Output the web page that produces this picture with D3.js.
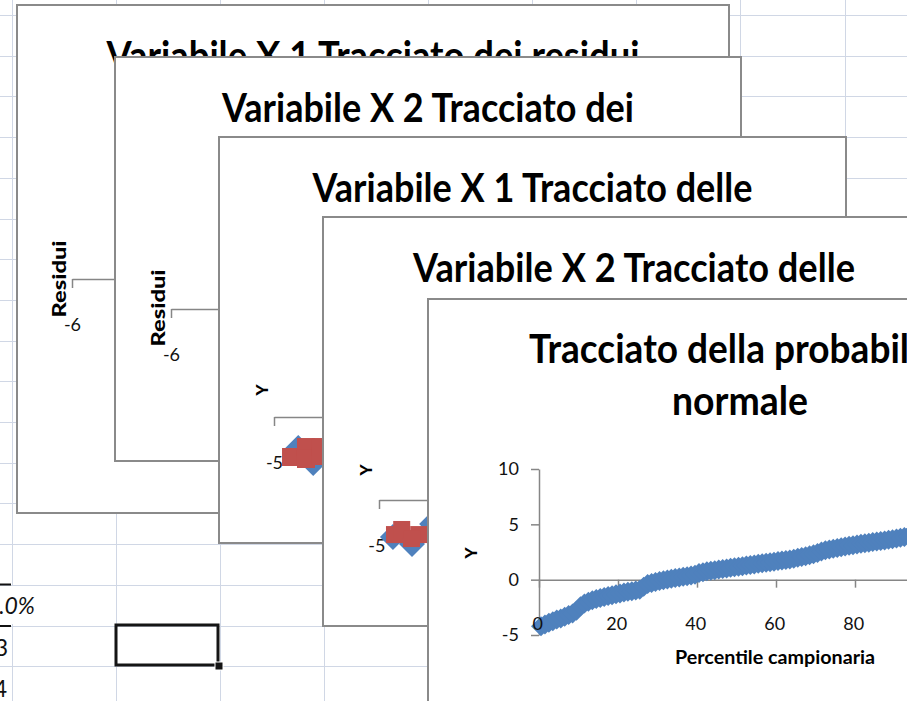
<!DOCTYPE html>
<html>
<head>
<meta charset="utf-8">
<script src="https://cdn.jsdelivr.net/npm/d3@7"></script>
<style>
  html, body { margin: 0; padding: 0; background: #fff; overflow: hidden; }
  svg { display: block; }
</style>
</head>
<body>
<script>
// ---- Normal probability plot: sample percentile vs Y ----
const percentili = [0.5,1.5,2.5,3.5,4.5,5.5,6.5,7.5,8.5,9.5,10.5,11.5,12.5,13.5,14.5,15.5,16.5,17.5,18.5,19.5,
  20.5,21.5,22.5,23.5,24.5,25.5,26.5,27.5,28.5,29.5,30.5,31.5,32.5,33.5,34.5,35.5,36.5,37.5,38.5,39.5,
  40.5,41.5,42.5,43.5,44.5,45.5,46.5,47.5,48.5,49.5,50.5,51.5,52.5,53.5,54.5,55.5,56.5,57.5,58.5,59.5,
  60.5,61.5,62.5,63.5,64.5,65.5,66.5,67.5,68.5,69.5,70.5,71.5,72.5,73.5,74.5,75.5,76.5,77.5,78.5,79.5,
  80.5,81.5,82.5,83.5,84.5,85.5,86.5,87.5,88.5,89.5,90.5,91.5,92.5,93.5,94.5,95.5,96.5,97.5,98.5,99.5];
const valoriY = [-4.2,-4.05,-3.9,-3.75,-3.6,-3.5,-3.35,-3.2,-3.05,-2.8,-2.4,-2.15,-2.0,-1.85,-1.75,-1.65,-1.57,-1.48,-1.4,-1.32,
  -1.24,-1.17,-1.1,-1.04,-0.98,-0.9,-0.65,-0.4,-0.3,-0.2,-0.12,-0.05,0.02,0.08,0.14,0.2,0.26,0.32,0.38,0.45,
  0.6,0.68,0.75,0.8,0.86,0.92,0.97,1.02,1.07,1.12,1.17,1.22,1.27,1.32,1.38,1.43,1.48,1.53,1.58,1.63,
  1.68,1.73,1.78,1.83,1.9,1.97,2.04,2.12,2.2,2.3,2.42,2.55,2.65,2.73,2.8,2.87,2.94,3.0,3.06,3.12,
  3.18,3.24,3.29,3.34,3.4,3.45,3.5,3.55,3.6,3.66,3.72,3.78,3.85,3.93,4.02,4.15,4.3,4.55,4.9,5.6];
const probTickY = [-5, 0, 5, 10];
const probTickX = [0, 20, 40, 60, 80, 100];

// ---- Line fit plots (X 1 and X 2): observed Y and predicted Y ----
const x1Oss = [-4.53, -4.24];
const y1Oss = [-2.98, -3.97];
const x1Prev = [-4.67, -4.38, -4.38, -4.09, -4.09];
const y1Prev = [-3.61, -2.71, -3.79, -2.71, -3.52];
const x2Oss = [-4.73, -4.36, -3.97];
const y2Oss = [-3.34, -3.97, -2.17];
const x2Prev = [-4.70, -4.56, -4.23, -4.37];
const y2Prev = [-3.12, -2.66, -3.12, -3.48];

// ---- First x-axis tick of the residual and line fit plots ----
const residTickX = [-6];
const fitTickX = [-5];

const W = 907, H = 701;
const FONT = "Lato, 'Open Sans', sans-serif";
const BORDER = "#8a8a8a";
const AXIS = "#868686";
const BLU = "#4f81bd";
const ROSSO = "#c0504d";
const fmt = d => String(d);   // plain hyphen for negatives

const svg = d3.select("body").append("svg")
  .attr("width", W).attr("height", H)
  .attr("viewBox", `0 0 ${W} ${H}`);
const defs = svg.append("defs");

// ---- Worksheet grid ----
const sheet = svg.append("g");
const colW = 104.1, rowH = 40.7;
d3.range(0, 9).forEach(k => {
  const x = Math.round(11.7 + colW * k) + 0.5;
  sheet.append("line").attr("x1", x).attr("x2", x).attr("y1", 0).attr("y2", H)
    .attr("stroke", "#d0d7e5").attr("stroke-width", 1);
});
d3.range(0, 18).forEach(k => {
  const y = Math.round(15 + rowH * k) + 0.5;
  sheet.append("line").attr("x1", 0).attr("x2", W).attr("y1", y).attr("y2", y)
    .attr("stroke", "#d0d7e5").attr("stroke-width", 1);
});
// cell borders and values in the first column
sheet.append("rect").attr("x", 0).attr("y", 586).attr("width", 40).attr("height", 38).attr("fill", "#fff");
sheet.append("line").attr("x1", 0).attr("x2", 11).attr("y1", 584.5).attr("y2", 584.5)
  .attr("stroke", "#111").attr("stroke-width", 2);
sheet.append("line").attr("x1", 0).attr("x2", 11).attr("y1", 626).attr("y2", 626)
  .attr("stroke", "#111").attr("stroke-width", 2);
sheet.append("text").attr("x", 35).attr("y", 614).attr("text-anchor", "end")
  .attr("font-family", FONT).attr("font-style", "italic").attr("font-size", 23).attr("fill", "#111")
  .text("5.0%");
sheet.append("text").attr("x", 8).attr("y", 656).attr("text-anchor", "end")
  .attr("font-family", FONT).attr("font-size", 23).attr("fill", "#111").text("3");
sheet.append("text").attr("x", 7).attr("y", 697).attr("text-anchor", "end")
  .attr("font-family", FONT).attr("font-size", 23).attr("fill", "#111").text("4");
// active cell
sheet.append("rect").attr("x", 116).attr("y", 625).attr("width", 102).attr("height", 40)
  .attr("fill", "none").attr("stroke", "#151515").attr("stroke-width", 3);
sheet.append("rect").attr("x", 215).attr("y", 662).attr("width", 8).attr("height", 8)
  .attr("fill", "#151515").attr("stroke", "#fff").attr("stroke-width", 1);

// ---- Chart frame helper ----
function cornice(id, f) {
  defs.append("clipPath").attr("id", id)
    .append("rect").attr("x", f.x + 1).attr("y", f.y + 1).attr("width", f.w - 2).attr("height", f.h - 2);
  const g = svg.append("g");
  g.append("rect").attr("x", f.x).attr("y", f.y).attr("width", f.w).attr("height", f.h)
    .attr("fill", "#fff").attr("stroke", BORDER).attr("stroke-width", 2);
  return g.append("g").attr("clip-path", `url(#${id})`);
}
function titolo(g, testo, cx, base, len) {
  g.append("text").attr("x", cx).attr("y", base).attr("text-anchor", "middle")
    .attr("font-family", FONT).attr("font-weight", 700).attr("font-size", 40).attr("fill", "#000")
    .attr("textLength", len).attr("lengthAdjust", "spacingAndGlyphs")
    .text(testo);
}
function etichettaY(g, testo, cx, cy, size, len) {
  const t = g.append("text").attr("transform", `translate(${cx},${cy}) rotate(-90)`)
    .attr("text-anchor", "middle").attr("dominant-baseline", "central")
    .attr("font-family", FONT).attr("font-weight", 900).attr("font-size", size).attr("fill", "#000")
    .text(testo);
  if (len) t.attr("textLength", len).attr("lengthAdjust", "spacingAndGlyphs");
}
function stileAsse(a) {
  a.selectAll("path, line").attr("stroke", AXIS).attr("stroke-width", 1.5);
  a.selectAll("text").attr("font-family", FONT).attr("font-size", 18).attr("fill", "#111");
}
function rombo(h) { return `M0,${-h}L${h},0L0,${h}L${-h},0Z`; }

// ---- Chart 1: residuals vs X 1 ----
{
  const g = cornice("c1", { x: 17, y: 5, w: 712, h: 508 });
  titolo(g, "Variabile X 1 Tracciato dei residui", 373, 70, 533);
  etichettaY(g, "Residui", 58, 279, 19, 77);
  const x = d3.scaleLinear().domain([-6, 6]).range([72, 640]);
  const a = g.append("g").attr("transform", "translate(0,279)")
    .call(d3.axisBottom(x).tickValues(residTickX).tickFormat(fmt).tickSize(9).tickSizeOuter(0).tickPadding(30));
  stileAsse(a);
}

// ---- Chart 2: residuals vs X 2 ----
{
  const g = cornice("c2", { x: 115, y: 57, w: 626, h: 404 });
  titolo(g, "Variabile X 2 Tracciato dei", 428, 122, 412);
  etichettaY(g, "Residui", 157, 308, 19, 77);
  const x = d3.scaleLinear().domain([-6, 6]).range([171, 700]);
  const a = g.append("g").attr("transform", "translate(0,309)")
    .call(d3.axisBottom(x).tickValues(residTickX).tickFormat(fmt).tickSize(9).tickSizeOuter(0).tickPadding(30));
  stileAsse(a);
}

// ---- Chart 3: line fit, X 1 ----
{
  const g = cornice("c3", { x: 219, y: 137, w: 627, h: 406 });
  titolo(g, "Variabile X 1 Tracciato delle", 532.5, 202, 440);
  etichettaY(g, "Y", 261, 390, 17);
  const x = d3.scaleLinear().domain([-5, 5]).range([274, 790]);
  const y = d3.scaleLinear().domain([-5, 0]).range([472.4, 417]);
  const a = g.append("g").attr("transform", `translate(0,${y(0)})`)
    .call(d3.axisBottom(x).tickValues(fitTickX).tickFormat(fmt).tickSize(9).tickSizeOuter(0).tickPadding(30));
  stileAsse(a);
  g.append("g").selectAll("path").data(d3.range(x1Oss.length)).join("path")
    .attr("transform", i => `translate(${x(x1Oss[i])},${y(y1Oss[i])})`)
    .attr("d", rombo(15)).attr("fill", BLU);
  const s = 18;
  g.append("g").selectAll("rect").data(d3.range(x1Prev.length)).join("rect")
    .attr("x", i => x(x1Prev[i]) - s / 2).attr("y", i => y(y1Prev[i]) - s / 2)
    .attr("width", s).attr("height", s).attr("fill", ROSSO);
}

// ---- Chart 4: line fit, X 2 ----
{
  const g = cornice("c4", { x: 323, y: 217, w: 627, h: 409 });
  titolo(g, "Variabile X 2 Tracciato delle", 634, 282, 442);
  etichettaY(g, "Y", 365, 470, 17);
  const x = d3.scaleLinear().domain([-5, 5]).range([379, 895]);
  const y = d3.scaleLinear().domain([-5, 0]).range([555.4, 500]);
  const a = g.append("g").attr("transform", `translate(0,${y(0)})`)
    .call(d3.axisBottom(x).tickValues(fitTickX).tickFormat(fmt).tickSize(9).tickSizeOuter(0).tickPadding(30));
  stileAsse(a);
  a.selectAll(".tick text").attr("dx", "-0.15em");
  g.append("g").selectAll("path").data(d3.range(x2Oss.length)).join("path")
    .attr("transform", i => `translate(${x(x2Oss[i])},${y(y2Oss[i])})`)
    .attr("d", rombo(13)).attr("fill", BLU);
  const s = 17;
  g.append("g").selectAll("rect").data(d3.range(x2Prev.length)).join("rect")
    .attr("x", i => x(x2Prev[i]) - s / 2).attr("y", i => y(y2Prev[i]) - s / 2)
    .attr("width", s).attr("height", s).attr("fill", ROSSO);
}

// ---- Chart 5: normal probability plot ----
{
  const g = cornice("c5", { x: 428, y: 299, w: 640, h: 430 });
  titolo(g, "Tracciato della probabilità", 740, 363, 422);
  titolo(g, "normale", 740, 415, 136);
  etichettaY(g, "Y", 470, 553, 17);
  const x = d3.scaleLinear().domain([0, 100]).range([539, 934]);
  const y = d3.scaleLinear().domain([-5, 10]).range([635, 469]);
  // axis lines and tick marks under the markers
  const ay = g.append("g").attr("transform", "translate(539,0)")
    .call(d3.axisLeft(y).tickValues(probTickY).tickFormat(fmt).tickSize(8).tickSizeOuter(0).tickPadding(12));
  stileAsse(ay);
  const ax = g.append("g").attr("transform", `translate(0,${y(0)})`)
    .call(d3.axisBottom(x).tickValues(probTickX).tickFormat(() => "").tickSize(8).tickSizeOuter(0));
  stileAsse(ax);
  g.append("g").selectAll("path").data(d3.range(percentili.length)).join("path")
    .attr("transform", i => `translate(${x(percentili[i])},${y(valoriY[i])})`)
    .attr("d", rombo(10)).attr("fill", BLU);
  // x tick labels on top of the markers
  const axl = g.append("g").attr("transform", `translate(0,${y(0)})`)
    .call(d3.axisBottom(x).tickValues(probTickX).tickFormat(fmt).tickSize(8).tickSizeOuter(0).tickPadding(30));
  stileAsse(axl);
  axl.select(".domain").remove();
  axl.selectAll(".tick line").remove();
  axl.selectAll(".tick text").attr("dx", "-0.1em");
  g.append("text").attr("x", 775).attr("y", 664).attr("text-anchor", "middle")
    .attr("font-family", FONT).attr("font-weight", 700).attr("font-size", 18).attr("fill", "#000")
    .attr("textLength", 200).attr("lengthAdjust", "spacingAndGlyphs")
    .text("Percentile campionaria");
}
</script>
</body>
</html>
